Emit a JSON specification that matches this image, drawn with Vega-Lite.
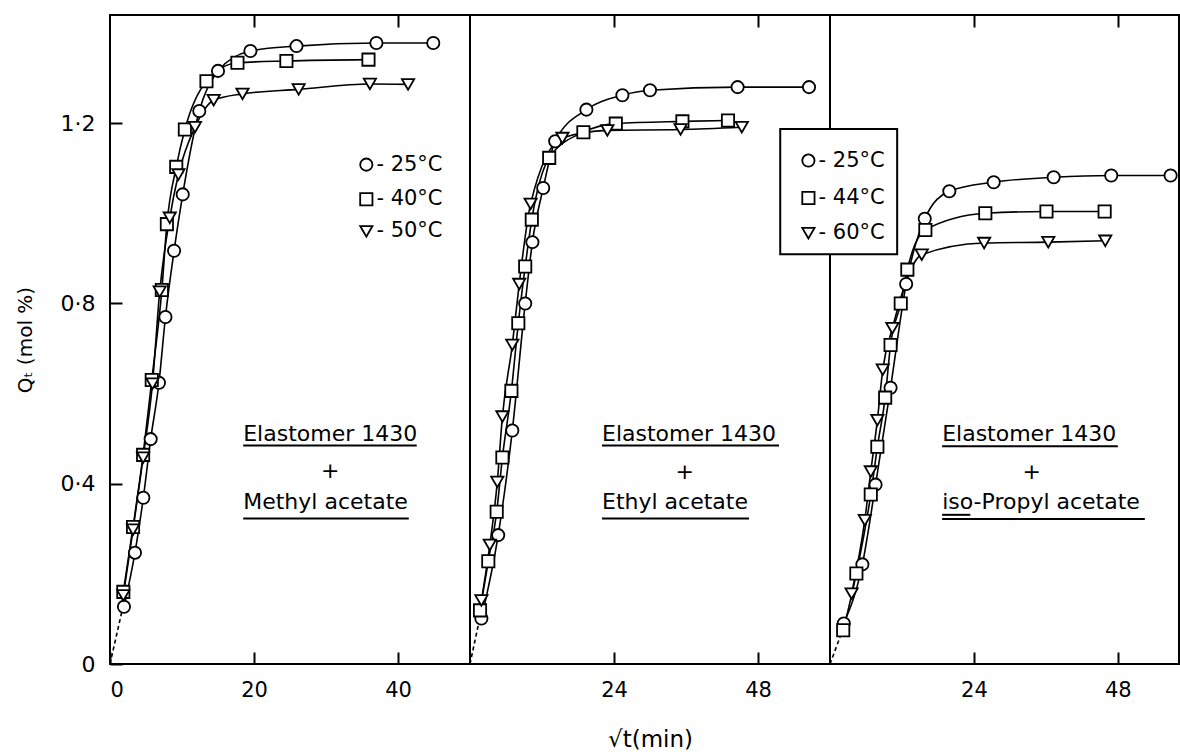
{
  "$schema": "https://vega.github.io/schema/vega-lite/v6.json",
  "padding": {"left": 14, "top": 13, "right": 0, "bottom": 0},
  "background": "white",
  "spacing": 0,
  "bounds": "flush",
  "config": {
    "view": {"stroke": "black", "strokeWidth": 2},
    "font": "DejaVu Sans",
    "concat": {"spacing": 0},
    "axis": {"domain": false, "grid": false, "tickColor": "black", "tickWidth": 2, "tickSize": -12, "labelFont": "DejaVu Sans", "labelFontSize": 21, "labelColor": "black", "titleFont": "DejaVu Sans", "titleFontSize": 20, "titleFontWeight": "normal", "titleColor": "black"}
  },
  "datasets": {
    "pts": [
      {"panel":"M","temp":"25°C","x":1.94,"y":0.127},{"panel":"M","temp":"25°C","x":3.47,"y":0.247},{"panel":"M","temp":"25°C","x":4.63,"y":0.369},{"panel":"M","temp":"25°C","x":5.65,"y":0.499},{"panel":"M","temp":"25°C","x":6.8,"y":0.624},{"panel":"M","temp":"25°C","x":7.7,"y":0.77},{"panel":"M","temp":"25°C","x":8.9,"y":0.917},{"panel":"M","temp":"25°C","x":10.1,"y":1.042},{"panel":"M","temp":"25°C","x":12.4,"y":1.227},{"panel":"M","temp":"25°C","x":15.0,"y":1.316},{"panel":"M","temp":"25°C","x":19.5,"y":1.36},{"panel":"M","temp":"25°C","x":25.9,"y":1.371},{"panel":"M","temp":"25°C","x":37.0,"y":1.378},{"panel":"M","temp":"25°C","x":44.9,"y":1.378},
      {"panel":"M","temp":"40°C","x":1.85,"y":0.16},{"panel":"M","temp":"40°C","x":3.2,"y":0.304},{"panel":"M","temp":"40°C","x":4.6,"y":0.464},{"panel":"M","temp":"40°C","x":5.8,"y":0.63},{"panel":"M","temp":"40°C","x":7.2,"y":0.83},{"panel":"M","temp":"40°C","x":7.9,"y":0.976},{"panel":"M","temp":"40°C","x":9.2,"y":1.103},{"panel":"M","temp":"40°C","x":10.4,"y":1.186},{"panel":"M","temp":"40°C","x":13.4,"y":1.293},{"panel":"M","temp":"40°C","x":17.7,"y":1.334},{"panel":"M","temp":"40°C","x":24.5,"y":1.338},{"panel":"M","temp":"40°C","x":35.9,"y":1.341},
      {"panel":"M","temp":"50°C","x":1.85,"y":0.152},{"panel":"M","temp":"50°C","x":3.2,"y":0.298},{"panel":"M","temp":"50°C","x":4.6,"y":0.458},{"panel":"M","temp":"50°C","x":5.9,"y":0.622},{"panel":"M","temp":"50°C","x":6.9,"y":0.826},{"panel":"M","temp":"50°C","x":8.3,"y":0.99},{"panel":"M","temp":"50°C","x":9.5,"y":1.086},{"panel":"M","temp":"50°C","x":11.8,"y":1.191},{"panel":"M","temp":"50°C","x":14.4,"y":1.251},{"panel":"M","temp":"50°C","x":18.4,"y":1.265},{"panel":"M","temp":"50°C","x":26.2,"y":1.275},{"panel":"M","temp":"50°C","x":36.1,"y":1.287},{"panel":"M","temp":"50°C","x":41.4,"y":1.286},
      {"panel":"E","temp":"25°C","x":1.9,"y":0.101},{"panel":"E","temp":"25°C","x":4.7,"y":0.286},{"panel":"E","temp":"25°C","x":7.05,"y":0.518},{"panel":"E","temp":"25°C","x":9.2,"y":0.8},{"panel":"E","temp":"25°C","x":10.4,"y":0.936},{"panel":"E","temp":"25°C","x":12.2,"y":1.056},{"panel":"E","temp":"25°C","x":14.2,"y":1.16},{"panel":"E","temp":"25°C","x":19.4,"y":1.23},{"panel":"E","temp":"25°C","x":25.4,"y":1.262},{"panel":"E","temp":"25°C","x":30.0,"y":1.273},{"panel":"E","temp":"25°C","x":44.6,"y":1.28},{"panel":"E","temp":"25°C","x":56.5,"y":1.28},
      {"panel":"E","temp":"44°C","x":1.67,"y":0.119},{"panel":"E","temp":"44°C","x":3.05,"y":0.228},{"panel":"E","temp":"44°C","x":4.45,"y":0.338},{"panel":"E","temp":"44°C","x":5.4,"y":0.458},{"panel":"E","temp":"44°C","x":6.9,"y":0.606},{"panel":"E","temp":"44°C","x":8.05,"y":0.756},{"panel":"E","temp":"44°C","x":9.2,"y":0.882},{"panel":"E","temp":"44°C","x":10.3,"y":0.986},{"panel":"E","temp":"44°C","x":13.2,"y":1.123},{"panel":"E","temp":"44°C","x":18.9,"y":1.18},{"panel":"E","temp":"44°C","x":24.3,"y":1.199},{"panel":"E","temp":"44°C","x":35.4,"y":1.204},{"panel":"E","temp":"44°C","x":43.0,"y":1.206},
      {"panel":"E","temp":"60°C","x":1.9,"y":0.141},{"panel":"E","temp":"60°C","x":3.3,"y":0.264},{"panel":"E","temp":"60°C","x":4.55,"y":0.404},{"panel":"E","temp":"60°C","x":5.4,"y":0.549},{"panel":"E","temp":"60°C","x":7.05,"y":0.708},{"panel":"E","temp":"60°C","x":8.2,"y":0.843},{"panel":"E","temp":"60°C","x":10.1,"y":1.021},{"panel":"E","temp":"60°C","x":15.4,"y":1.167},{"panel":"E","temp":"60°C","x":22.9,"y":1.184},{"panel":"E","temp":"60°C","x":35.1,"y":1.186},{"panel":"E","temp":"60°C","x":45.3,"y":1.191},
      {"panel":"I","temp":"25°C","x":2.3,"y":0.09},{"panel":"I","temp":"25°C","x":5.4,"y":0.221},{"panel":"I","temp":"25°C","x":7.6,"y":0.398},{"panel":"I","temp":"25°C","x":10.1,"y":0.613},{"panel":"I","temp":"25°C","x":12.7,"y":0.843},{"panel":"I","temp":"25°C","x":15.8,"y":0.988},{"panel":"I","temp":"25°C","x":19.9,"y":1.049},{"panel":"I","temp":"25°C","x":27.3,"y":1.069},{"panel":"I","temp":"25°C","x":37.3,"y":1.08},{"panel":"I","temp":"25°C","x":46.9,"y":1.084},{"panel":"I","temp":"25°C","x":56.8,"y":1.084},
      {"panel":"I","temp":"44°C","x":2.2,"y":0.075},{"panel":"I","temp":"44°C","x":4.4,"y":0.201},{"panel":"I","temp":"44°C","x":6.8,"y":0.376},{"panel":"I","temp":"44°C","x":7.9,"y":0.482},{"panel":"I","temp":"44°C","x":9.2,"y":0.591},{"panel":"I","temp":"44°C","x":10.1,"y":0.708},{"panel":"I","temp":"44°C","x":11.8,"y":0.8},{"panel":"I","temp":"44°C","x":12.9,"y":0.875},{"panel":"I","temp":"44°C","x":15.9,"y":0.963},{"panel":"I","temp":"44°C","x":25.9,"y":1.0},{"panel":"I","temp":"44°C","x":36.1,"y":1.004},{"panel":"I","temp":"44°C","x":45.8,"y":1.004},
      {"panel":"I","temp":"60°C","x":3.6,"y":0.156},{"panel":"I","temp":"60°C","x":5.8,"y":0.319},{"panel":"I","temp":"60°C","x":6.8,"y":0.427},{"panel":"I","temp":"60°C","x":7.9,"y":0.541},{"panel":"I","temp":"60°C","x":8.8,"y":0.653},{"panel":"I","temp":"60°C","x":10.4,"y":0.745},{"panel":"I","temp":"60°C","x":15.3,"y":0.908},{"panel":"I","temp":"60°C","x":25.7,"y":0.934},{"panel":"I","temp":"60°C","x":36.4,"y":0.936},{"panel":"I","temp":"60°C","x":45.9,"y":0.939}
    ],
    "dash": [
      {"panel":"M","x":0,"y":0},{"panel":"M","x":1.7,"y":0.12},
      {"panel":"E","x":0,"y":0},{"panel":"E","x":1.6,"y":0.1},
      {"panel":"I","x":0,"y":0},{"panel":"I","x":2.1,"y":0.075}
    ],
    "ann": [
      {"panel":"M","x":18.5,"y":0.511,"text":"Elastomer 1430"},{"panel":"M","x":29.3,"y":0.429,"text":"+"},{"panel":"M","x":18.5,"y":0.36,"text":"Methyl acetate"},
      {"panel":"E","x":22.0,"y":0.511,"text":"Elastomer 1430"},{"panel":"E","x":34.25,"y":0.426,"text":"+"},{"panel":"E","x":22.0,"y":0.36,"text":"Ethyl acetate"},
      {"panel":"I","x":18.7,"y":0.511,"text":"Elastomer 1430"},{"panel":"I","x":32.1,"y":0.426,"text":"+"},{"panel":"I","x":18.7,"y":0.36,"text":"iso-Propyl acetate"}
    ],
    "ul": [
      {"panel":"M","x":18.5,"x2":42.6,"y":0.485},{"panel":"M","x":18.5,"x2":41.5,"y":0.323},
      {"panel":"E","x":22.0,"x2":51.5,"y":0.485},{"panel":"E","x":22.0,"x2":46.5,"y":0.323},
      {"panel":"I","x":18.7,"x2":48.0,"y":0.483},{"panel":"I","x":18.7,"x2":52.5,"y":0.322},{"panel":"I","x":18.7,"x2":23.4,"y":0.331}
    ],
    "leg": [
      {"panel":"M","temp":"25°C","x":35.6,"tx":37.0,"y":1.108,"label":"- 25°C"},
      {"panel":"M","temp":"40°C","x":35.6,"tx":37.0,"y":1.031,"label":"- 40°C"},
      {"panel":"M","temp":"50°C","x":35.6,"tx":37.0,"y":0.96,"label":"- 50°C"},
      {"panel":"I","temp":"25°C","x":-3.6,"tx":-1.9,"y":1.117,"label":"- 25°C"},
      {"panel":"I","temp":"44°C","x":-3.6,"tx":-1.9,"y":1.034,"label":"- 44°C"},
      {"panel":"I","temp":"60°C","x":-3.6,"tx":-1.9,"y":0.956,"label":"- 60°C"}
    ],
    "box": [
      {"panel":"I","x":-8.3,"x2":11.2,"y":0.909,"y2":1.187}
    ]
  },
  "hconcat": [
    {
      "width": 360, "height": 649,
      "resolve": {"axis": {"x": "independent"}},
      "layer": [
        {
          "data": {"name": "pts"},
          "transform": [{"filter": "datum.panel == 'M'"}],
          "mark": {"type": "line", "interpolate": "monotone", "color": "black", "strokeWidth": 1.6},
          "encoding": {
            "x": {"field": "x", "type": "quantitative", "scale": {"domain": [0, 50], "nice": false}, "axis": {"orient": "bottom", "values": [0, 20, 40], "title": null, "labelPadding": 27}},
            "y": {"field": "y", "type": "quantitative", "scale": {"domain": [0, 1.44], "nice": false}, "axis": {"values": [0, 0.4, 0.8, 1.2], "labelExpr": "datum.value == 0 ? '0' : replace(format(datum.value, '.1f'), '.', '·')", "title": "Qₜ (mol %)", "labelPadding": 27, "labelFontSize": 22, "titlePadding": 25}},
            "detail": {"field": "temp"}
          }
        },
        {
          "data": {"name": "dash"},
          "transform": [{"filter": "datum.panel == 'M'"}],
          "mark": {"type": "line", "color": "black", "strokeWidth": 1.6, "strokeDash": [4, 3]},
          "encoding": {
            "x": {"field": "x", "type": "quantitative", "axis": null},
            "y": {"field": "y", "type": "quantitative"}
          }
        },
        {
          "data": {"name": "pts"},
          "transform": [{"filter": "datum.panel == 'M'"}],
          "mark": {"type": "point", "filled": true, "fill": "white", "stroke": "black", "strokeWidth": 1.8, "size": 150, "opacity": 1},
          "encoding": {
            "x": {"field": "x", "type": "quantitative", "axis": {"orient": "top", "values": [20, 40], "labels": false, "title": null}},
            "y": {"field": "y", "type": "quantitative"},
            "shape": {"field": "temp", "type": "nominal", "legend": null, "scale": {"domain": ["25°C", "40°C", "44°C", "50°C", "60°C"], "range": ["circle", "square", "square", "triangle-down", "triangle-down"]}}
          }
        },
        {
          "data": {"name": "ul"},
          "transform": [{"filter": "datum.panel == 'M'"}],
          "mark": {"type": "rule", "color": "black", "strokeWidth": 2},
          "encoding": {
            "x": {"field": "x", "type": "quantitative", "axis": null},
            "x2": {"field": "x2"},
            "y": {"field": "y", "type": "quantitative"}
          }
        },
        {
          "data": {"name": "ann"},
          "transform": [{"filter": "datum.panel == 'M'"}],
          "mark": {"type": "text", "align": "left", "baseline": "middle", "fontSize": 22, "color": "black"},
          "encoding": {
            "x": {"field": "x", "type": "quantitative", "axis": null},
            "y": {"field": "y", "type": "quantitative"},
            "text": {"field": "text"}
          }
        },
        {
          "data": {"name": "leg"},
          "transform": [{"filter": "datum.panel == 'M'"}],
          "mark": {"type": "point", "filled": true, "fill": "white", "stroke": "black", "strokeWidth": 1.8, "size": 150, "opacity": 1},
          "encoding": {
            "x": {"field": "x", "type": "quantitative", "axis": null},
            "y": {"field": "y", "type": "quantitative"},
            "shape": {"field": "temp", "type": "nominal", "legend": null}
          }
        },
        {
          "data": {"name": "leg"},
          "transform": [{"filter": "datum.panel == 'M'"}],
          "mark": {"type": "text", "align": "left", "baseline": "middle", "fontSize": 21, "color": "black"},
          "encoding": {
            "x": {"field": "tx", "type": "quantitative", "axis": null},
            "y": {"field": "y", "type": "quantitative"},
            "text": {"field": "label"}
          }
        }
      ]
    },
    {
      "width": 360, "height": 649,
      "resolve": {"axis": {"x": "independent"}},
      "layer": [
        {
          "data": {"name": "pts"},
          "transform": [{"filter": "datum.panel == 'E'"}],
          "mark": {"type": "line", "interpolate": "monotone", "color": "black", "strokeWidth": 1.6},
          "encoding": {
            "x": {"field": "x", "type": "quantitative", "scale": {"domain": [0, 60], "nice": false}, "axis": {"orient": "bottom", "values": [24, 48], "title": "√t(min)", "titleFontSize": 23, "labelPadding": 27, "titlePadding": 28}},
            "y": {"field": "y", "type": "quantitative", "scale": {"domain": [0, 1.44], "nice": false}, "axis": null},
            "detail": {"field": "temp"}
          }
        },
        {
          "data": {"name": "dash"},
          "transform": [{"filter": "datum.panel == 'E'"}],
          "mark": {"type": "line", "color": "black", "strokeWidth": 1.6, "strokeDash": [4, 3]},
          "encoding": {
            "x": {"field": "x", "type": "quantitative", "axis": null},
            "y": {"field": "y", "type": "quantitative", "axis": null}
          }
        },
        {
          "data": {"name": "pts"},
          "transform": [{"filter": "datum.panel == 'E'"}],
          "mark": {"type": "point", "filled": true, "fill": "white", "stroke": "black", "strokeWidth": 1.8, "size": 150, "opacity": 1},
          "encoding": {
            "x": {"field": "x", "type": "quantitative", "axis": {"orient": "top", "values": [24, 48], "labels": false, "title": null}},
            "y": {"field": "y", "type": "quantitative", "axis": null},
            "shape": {"field": "temp", "type": "nominal", "legend": null, "scale": {"domain": ["25°C", "40°C", "44°C", "50°C", "60°C"], "range": ["circle", "square", "square", "triangle-down", "triangle-down"]}}
          }
        },
        {
          "data": {"name": "ul"},
          "transform": [{"filter": "datum.panel == 'E'"}],
          "mark": {"type": "rule", "color": "black", "strokeWidth": 2},
          "encoding": {
            "x": {"field": "x", "type": "quantitative", "axis": null},
            "x2": {"field": "x2"},
            "y": {"field": "y", "type": "quantitative", "axis": null}
          }
        },
        {
          "data": {"name": "ann"},
          "transform": [{"filter": "datum.panel == 'E'"}],
          "mark": {"type": "text", "align": "left", "baseline": "middle", "fontSize": 22, "color": "black"},
          "encoding": {
            "x": {"field": "x", "type": "quantitative", "axis": null},
            "y": {"field": "y", "type": "quantitative", "axis": null},
            "text": {"field": "text"}
          }
        }
      ]
    },
    {
      "width": 349, "height": 649,
      "resolve": {"axis": {"x": "independent"}},
      "layer": [
        {
          "data": {"name": "pts"},
          "transform": [{"filter": "datum.panel == 'I'"}],
          "mark": {"type": "line", "interpolate": "monotone", "color": "black", "strokeWidth": 1.6},
          "encoding": {
            "x": {"field": "x", "type": "quantitative", "scale": {"domain": [0, 58.2], "nice": false}, "axis": {"orient": "bottom", "values": [24, 48], "title": null, "labelPadding": 27}},
            "y": {"field": "y", "type": "quantitative", "scale": {"domain": [0, 1.44], "nice": false}, "axis": null},
            "detail": {"field": "temp"}
          }
        },
        {
          "data": {"name": "dash"},
          "transform": [{"filter": "datum.panel == 'I'"}],
          "mark": {"type": "line", "color": "black", "strokeWidth": 1.6, "strokeDash": [4, 3]},
          "encoding": {
            "x": {"field": "x", "type": "quantitative", "axis": null},
            "y": {"field": "y", "type": "quantitative", "axis": null}
          }
        },
        {
          "data": {"name": "pts"},
          "transform": [{"filter": "datum.panel == 'I'"}],
          "mark": {"type": "point", "filled": true, "fill": "white", "stroke": "black", "strokeWidth": 1.8, "size": 150, "opacity": 1},
          "encoding": {
            "x": {"field": "x", "type": "quantitative", "axis": {"orient": "top", "values": [24, 48], "labels": false, "title": null}},
            "y": {"field": "y", "type": "quantitative", "axis": null},
            "shape": {"field": "temp", "type": "nominal", "legend": null, "scale": {"domain": ["25°C", "40°C", "44°C", "50°C", "60°C"], "range": ["circle", "square", "square", "triangle-down", "triangle-down"]}}
          }
        },
        {
          "data": {"name": "ul"},
          "transform": [{"filter": "datum.panel == 'I'"}],
          "mark": {"type": "rule", "color": "black", "strokeWidth": 2},
          "encoding": {
            "x": {"field": "x", "type": "quantitative", "axis": null},
            "x2": {"field": "x2"},
            "y": {"field": "y", "type": "quantitative", "axis": null}
          }
        },
        {
          "data": {"name": "ann"},
          "transform": [{"filter": "datum.panel == 'I'"}],
          "mark": {"type": "text", "align": "left", "baseline": "middle", "fontSize": 22, "color": "black"},
          "encoding": {
            "x": {"field": "x", "type": "quantitative", "axis": null},
            "y": {"field": "y", "type": "quantitative", "axis": null},
            "text": {"field": "text"}
          }
        },
        {
          "data": {"name": "box"},
          "mark": {"type": "rect", "fill": "white", "stroke": "black", "strokeWidth": 2},
          "encoding": {
            "x": {"field": "x", "type": "quantitative", "axis": null},
            "x2": {"field": "x2"},
            "y": {"field": "y", "type": "quantitative", "axis": null},
            "y2": {"field": "y2"}
          }
        },
        {
          "data": {"name": "leg"},
          "transform": [{"filter": "datum.panel == 'I'"}],
          "mark": {"type": "point", "filled": true, "fill": "white", "stroke": "black", "strokeWidth": 1.8, "size": 150, "opacity": 1},
          "encoding": {
            "x": {"field": "x", "type": "quantitative", "axis": null},
            "y": {"field": "y", "type": "quantitative", "axis": null},
            "shape": {"field": "temp", "type": "nominal", "legend": null}
          }
        },
        {
          "data": {"name": "leg"},
          "transform": [{"filter": "datum.panel == 'I'"}],
          "mark": {"type": "text", "align": "left", "baseline": "middle", "fontSize": 21, "color": "black"},
          "encoding": {
            "x": {"field": "tx", "type": "quantitative", "axis": null},
            "y": {"field": "y", "type": "quantitative", "axis": null},
            "text": {"field": "label"}
          }
        }
      ]
    }
  ]
}
